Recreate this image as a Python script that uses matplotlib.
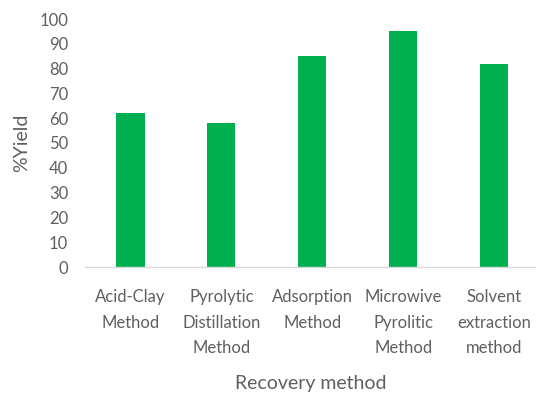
import matplotlib.pyplot as plt

methods = ['Acid-Clay\nMethod', 'Pyrolytic\nDistillation\nMethod', 'Adsorption\nMethod',
           'Microwive\nPyrolitic\nMethod', 'Solvent\nextraction\nmethod']
yield_pct = [62, 58, 85, 95, 82]

plt.rcParams['font.family'] = ['Lato', 'DejaVu Sans']
grey = '#5f5f5f'

fig = plt.figure(figsize=(5.36, 3.97), dpi=100)
ax = fig.add_axes([85 / 536, 1 - 267 / 397, 451 / 536, 248 / 397])

x = range(len(methods))
ax.bar(x, yield_pct, width=0.31, color='#00B050')

ax.set_xlim(-0.5, 4.46)
ax.set_ylim(0, 100)
ax.set_yticks(range(0, 101, 10))
ax.set_xticks(list(x))
ax.set_xticklabels(methods, linespacing=1.72)

for side in ['top', 'right', 'left']:
    ax.spines[side].set_visible(False)
ax.spines['bottom'].set_color('#D9D9D9')
ax.spines['bottom'].set_linewidth(1)
ax.tick_params(axis='both', length=0, colors=grey, labelsize=12)
ax.tick_params(axis='x', pad=16)
ax.tick_params(axis='y', pad=12)

ax.set_xlabel('Recovery method', color=grey, fontsize=14, labelpad=14)
ax.set_ylabel('%Yield', color=grey, fontsize=14, labelpad=7)

fig.savefig('out.png', dpi=100)
